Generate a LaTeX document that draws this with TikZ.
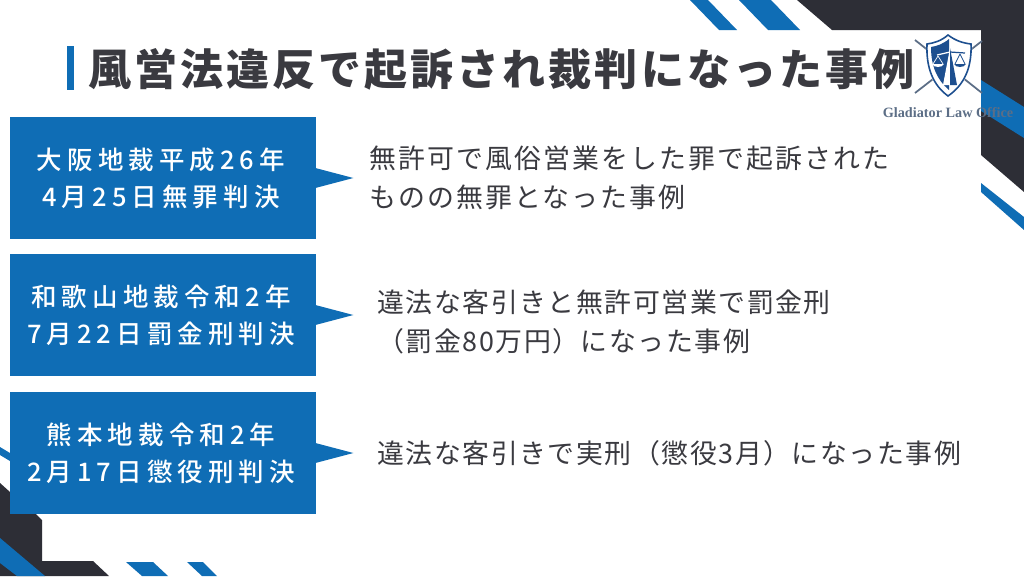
\documentclass[tikz,border=0pt]{standalone}
\usepackage{fontspec}
\setmainfont{Noto Sans CJK JP}
\newfontfamily\logofont{Liberation Serif}
\newfontfamily\mediumfont{Noto Sans CJK JP Medium}
\definecolor{navy}{HTML}{0F6DB5}
\definecolor{slate}{HTML}{2D2E36}
\definecolor{shieldblue}{HTML}{1D4F8F}
\definecolor{logogray}{HTML}{5C6E86}
\definecolor{inkgray}{HTML}{3A3A40}
\newcommand{\pad}{\hspace*{2.3pt}}
\tikzset{
    casebox/.style={fill=navy, text=white, minimum width=306*0.02cm, minimum height=122*0.02cm, inner sep=0pt, align=center, font=\mediumfont\fontsize{14.5}{21}\selectfont\addfontfeature{LetterSpace=20}},
    detail/.style={anchor=west, inner sep=0pt, align=left, text=inkgray, font=\fontsize{15.3}{22.4}\selectfont\addfontfeature{LetterSpace=5.8}},
}
\begin{document}
\begin{tikzpicture}[x=0.02cm,y=-0.02cm]
    \useasboundingbox (0,0) rectangle (1024,576);
    % backdrop
    \fill[white] (0,0) rectangle (1024,576);
    \fill[slate] (797,0) -- (1024,0) -- (1024,192) -- (981,155) -- (981,30) -- (832,30) -- cycle;
    \fill[navy] (981,80) -- (1024,107) -- (1024,138) -- (981,111) -- cycle;
    \fill[navy] (981,183) -- (1024,217) -- (1024,230) -- (981,192) -- cycle;
    \fill[navy] (690,0) -- (708,0) -- (737,30) -- (719,30) -- cycle;
    \fill[navy] (739,0) -- (771,0) -- (800,30) -- (768,30) -- cycle;
    \fill[slate] (0,483) -- (10,492) -- (10,514) -- (36,514) -- (42,520) -- (42,561) -- (93,561) -- (109,576) -- (0,576) -- cycle;
    \fill[navy] (0,447) -- (10,453) -- (10,461) -- (0,455) -- cycle;
    \fill[navy] (0,538) -- (45,576) -- (17,576) -- (0,563) -- cycle;
    \fill[navy] (126,562) -- (153,562) -- (168,576) -- (142,576) -- cycle;
    \fill[navy] (187,562) -- (203,562) -- (217,576) -- (202,576) -- cycle;
    % heading
    \fill[navy] (67,46) rectangle (74,90);
    \node[anchor=west, inner sep=0pt, text=inkgray, font=\fontsize{24.5}{28}\selectfont\bfseries\addfontfeature{LetterSpace=7}] (heading) at (88,69) {風営法違反で起訴され裁判になった事例};
    % logo
    \draw[logogray, line width=1pt] (915,40) -- (982,93);
    \draw[logogray, line width=1pt] (982,41) -- (915,93);
    \fill[white] (948,34) .. controls (941,40) and (934,42) .. (926,43) .. controls (925,68) and (932,86) .. (948,97) .. controls (965,86) and (973,68) .. (972,43) .. controls (963,42) and (956,40) .. (948,34) -- cycle;
    \draw[shieldblue, line width=0.9pt] (948,35) .. controls (941,41) and (934,43) .. (927,44) .. controls (926,68) and (933,85) .. (948,96) .. controls (964,85) and (972,68) .. (971,44) .. controls (963,43) and (956,41) .. (948,35) -- cycle;
    \fill[shieldblue] (949,39) .. controls (943,44) and (937,46) .. (931,47) .. controls (931,66) and (937,80) .. (949,90) -- cycle;
    \draw[white, line width=0.7pt] (937,55) -- (950,52);
    \draw[white, line width=0.4pt] (938,56) -- (933,64) (938,56) -- (943,64);
    \fill[white] (932,64) .. controls (934,68) and (942,68) .. (944,64) -- cycle;
    \draw[shieldblue, line width=0.7pt] (950,52) -- (965,53);
    \draw[shieldblue, line width=0.4pt] (960,54) -- (955,64) (960,54) -- (965,64);
    \fill[shieldblue] (954,64) .. controls (956,68) and (964,68) .. (966,64) -- cycle;
    \fill[white] (950,48) -- (950,85) -- (943,85) -- cycle;
    \fill[shieldblue] (950,48) -- (957,85) -- (950,85) -- cycle;
    \node[inner sep=0pt, text=logogray, font=\logofont\bfseries\fontsize{8.1}{10}\selectfont] (firm) at (948,113) {Gladiator Law Office};
    % cases
    \node[casebox] (osaka) at (163,178) {大阪地裁平成26年\pad\\4月25日無罪判決\pad};
    \node[casebox] (wakayama) at (163,315) {和歌山地裁令和2年\pad\\7月22日罰金刑判決\pad};
    \node[casebox] (kumamoto) at (163,453) {熊本地裁令和2年\pad\\2月17日懲役刑判決\pad};
    \foreach \name in {osaka,wakayama,kumamoto}
        \fill[navy] ([xshift=-1*0.02cm,yshift=10*0.02cm]\name.east) -- ([xshift=37*0.02cm]\name.east) -- ([xshift=-1*0.02cm,yshift=-10*0.02cm]\name.east) -- cycle;
    \node[detail, font=\fontsize{15.3}{22.4}\selectfont\addfontfeature{LetterSpace=8}] (osakatext) at (369,178) {無許可で風俗営業をした罪で起訴された\\ものの無罪となった事例};
    \node[detail] (wakayamatext) at (377,322) {違法な客引きと無許可営業で罰金刑\\（罰金80万円）になった事例};
    \node[detail] (kumamototext) at (377,453) {違法な客引きで実刑（懲役3月）になった事例};
\end{tikzpicture}
\end{document}
